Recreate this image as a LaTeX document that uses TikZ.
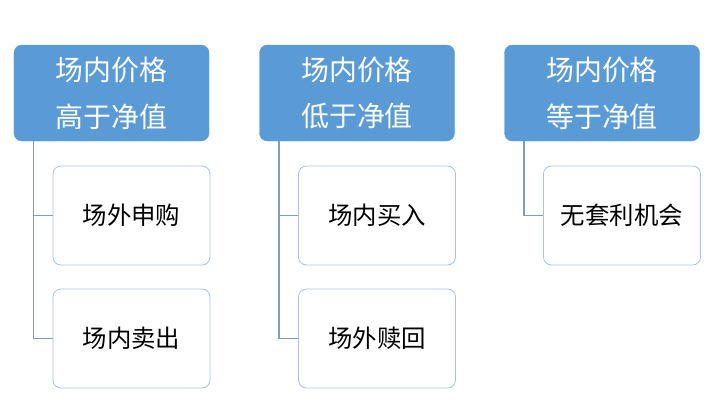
\documentclass[tikz,border=0pt]{standalone}
\usepackage{fontspec}
\newfontfamily\cjk{Noto Sans CJK SC}
\definecolor{hdrblue}{HTML}{5B9BD5}
\definecolor{boxline}{HTML}{A8C2E0}
\definecolor{conline}{HTML}{7F9DBF}
\tikzset{
  hdr/.style={draw=hdrblue, fill=hdrblue, rounded corners=8bp, minimum width=195bp, minimum height=96bp,
    text=white, font=\cjk\fontsize{28}{47}\selectfont, align=center, inner sep=0pt},
  kid/.style={draw=boxline, line width=0.8bp, fill=white, rounded corners=8bp, minimum width=157bp, minimum height=99bp,
    text=black, font=\cjk\fontsize{24.5}{28}\selectfont, align=center, inner sep=0pt},
  con/.style={draw=conline, line width=1.2bp}
}
\begin{document}
\begin{tikzpicture}[x=1bp,y=-1bp]
\useasboundingbox (0,0) rectangle (714,402);
\fill[white] (0,0) rectangle (714,402);
% column 1
\node[hdr] (h1) at (111.5,93) {场内价格\\高于净值};
\node[kid] (a1) at (131.5,215.5) {场外申购};
\node[kid] (a2) at (131.5,338.5) {场内卖出};
% column 2
\node[hdr] (h2) at (357,93) {场内价格\\低于净值};
\node[kid] (b1) at (377,215.5) {场内买入};
\node[kid] (b2) at (377,338.5) {场外赎回};
% column 3
\node[hdr] (h3) at (602,93) {场内价格\\等于净值};
\node[kid] (c1) at (622,215.5) {无套利机会};
% connectors
\coordinate (p1) at ([xshift=-78bp]h1.south);
\draw[con] (h1.south west -| p1) |- (a2.west);
\draw[con] (p1 |- a1.west) -- (a1.west);
\coordinate (p2) at ([xshift=-78bp]h2.south);
\draw[con] (h2.south west -| p2) |- (b2.west);
\draw[con] (p2 |- b1.west) -- (b1.west);
\coordinate (p3) at ([xshift=-78bp]h3.south);
\draw[con] (h3.south west -| p3) |- (c1.west);
\end{tikzpicture}
\end{document}
